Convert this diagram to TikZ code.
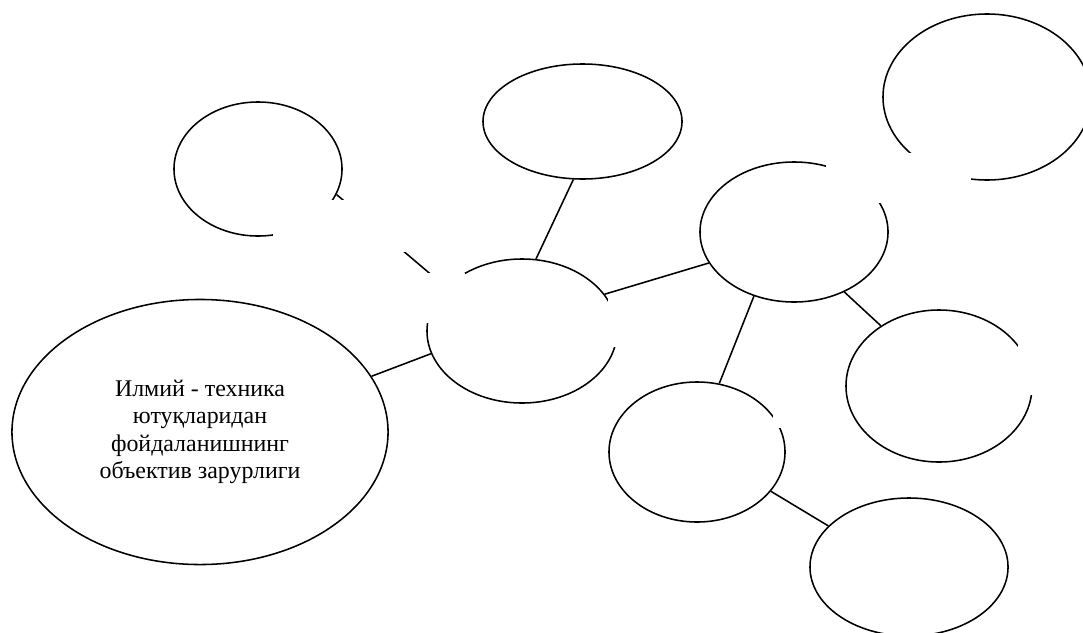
\documentclass[tikz,border=0pt]{standalone}
\usepackage{fontspec}
\setmainfont{Liberation Serif}
\usetikzlibrary{shapes.geometric}

\begin{document}
\begin{tikzpicture}[x=0.025cm,y=-0.025cm,
  oval/.style={draw,ellipse,line width=1.1pt,inner sep=0pt},
  link/.style={line width=1.1pt},
  gap/.style={fill=white}]
\useasboundingbox (0,0) rectangle (1083,632);
\node[oval,minimum width=9.4cm,minimum height=6.625cm,align=center,font=\fontsize{17}{19.5}\selectfont] (E0) at (200,432) {Илмий - техника\\ютуқларидан\\фойдаланишнинг\\объектив зарурлиги};
\node[oval,minimum width=4.2cm,minimum height=3.35cm] (E1) at (258,169) {};
\node[oval,minimum width=4.975cm,minimum height=2.875cm] (E2) at (582.5,121.5) {};
\node[oval,minimum width=4.75cm,minimum height=3.6cm] (E3) at (522,331) {};
\node[oval,minimum width=4.7cm,minimum height=3.5cm] (E4) at (794,232) {};
\node[oval,minimum width=4.65cm,minimum height=3.8cm] (E5) at (939,386) {};
\node[oval,minimum width=4.4cm,minimum height=3.5cm] (E6) at (697,452) {};
\node[oval,minimum width=4.95cm,minimum height=3.45cm] (E7) at (909,567) {};
\node[oval,minimum width=5.2cm,minimum height=4.15cm] (E8) at (987,97) {};
\draw[link] (E1.-18) -- (E3.150);
\draw[link] (E3.79) -- (E2.261);
\draw[link] (E3.194) -- (E0.18);
\draw[link] (E3.24) -- (E4.200);
\draw[link] (E4.238) -- (E6.72);
\draw[link] (E4.-50) -- (E5.134);
\draw[link] (E6.-28) -- (E7.153);
\fill[gap] (273,200) rectangle (410,252);
\fill[gap] (415,273) rectangle (465,323);
\fill[gap] (608,298) rectangle (625,347);
\fill[gap] (826,153) rectangle (971,203);
\fill[gap] (1018,330) rectangle (1040,395);
\fill[gap] (773,405) rectangle (790,428);
\end{tikzpicture}
\end{document}
